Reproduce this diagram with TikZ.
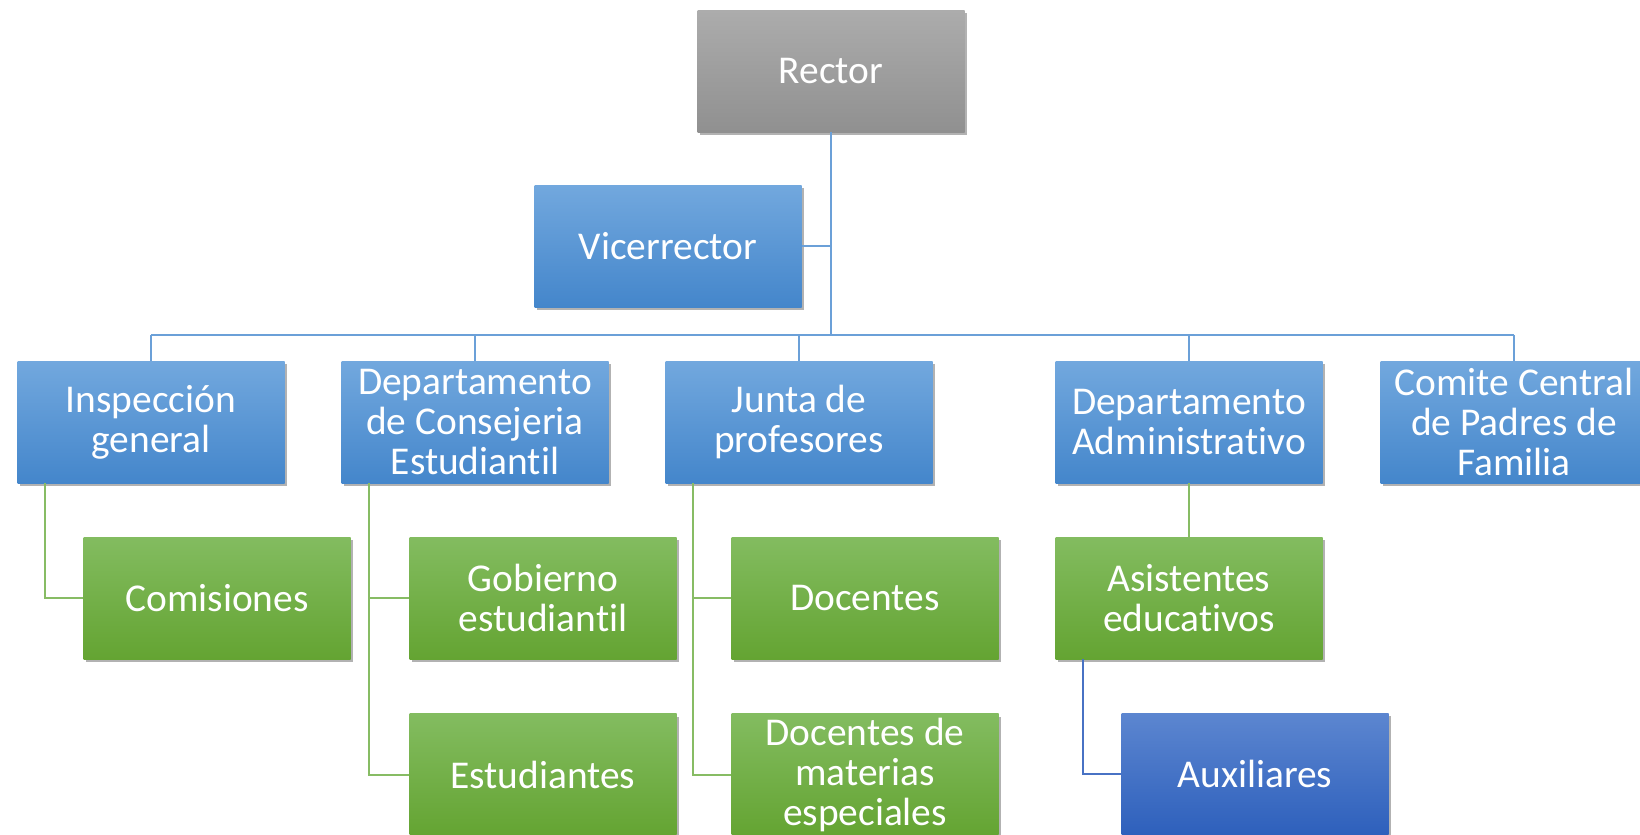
\documentclass[tikz,border=0pt]{standalone}
\usepackage{fontspec}
\setmainfont[Ligatures=NoCommon]{Carlito}
\usepackage{tikz}
\usetikzlibrary{positioning, shadows}
\definecolor{bluetop}{RGB}{114,168,222}
\definecolor{bluebot}{RGB}{68,134,203}
\definecolor{greentop}{RGB}{131,188,96}
\definecolor{greenbot}{RGB}{100,164,50}
\definecolor{graytop}{RGB}{172,172,172}
\definecolor{graybot}{RGB}{144,144,144}
\definecolor{deeptop}{RGB}{92,134,208}
\definecolor{deepbot}{RGB}{46,96,188}
\definecolor{bluelink}{RGB}{107,160,216}
\definecolor{greenlink}{RGB}{135,188,100}
\definecolor{deeplink}{RGB}{72,114,196}
\tikzstyle{link} = [line width=1.1pt]

\begin{document}
\begin{tikzpicture}[x=0.5pt, y=-0.5pt,
  every node/.style={rectangle, minimum width=133.5pt, minimum height=61pt, inner sep=2pt,
    align=center, text=white, font=\fontsize{19.7}{20}\selectfont,
    drop shadow={shadow xshift=1pt, shadow yshift=-1.5pt, opacity=0.3, fill=black}},
  boss/.style={top color=graytop, bottom color=graybot},
  unit/.style={top color=bluetop, bottom color=bluebot},
  team/.style={top color=greentop, bottom color=greenbot},
  aux/.style={top color=deeptop, bottom color=deepbot}]
  \useasboundingbox (0,0) rectangle (1640,835);

  % Top
  \node[boss] (rector) at (831,71) {Rector};
  \node[unit] (vice) at (668,246) {Vicerrector};

  % Second level
  \node[unit] (insp) at (151,422) {Inspección\\general};
  \node[unit] (conse) at (475,422) {Departamento\\de Consejeria\\Estudiantil};
  \node[unit] (junta) at (799,422) {Junta de\\profesores};
  \node[unit] (admin) at (1189,422) {Departamento\\Administrativo};
  \node[unit] (comite) at (1514,422) {Comite Central\\de Padres de\\Familia};

  % Third level
  \node[team] (comis) at (217,598) {Comisiones};
  \node[team] (gobierno) at (543,598) {Gobierno\\estudiantil};
  \node[team, below=27pt of gobierno] (estud) {Estudiantes};
  \node[team] (docentes) at (865,598) {Docentes};
  \node[team, below=27pt of docentes] (materias) {Docentes de\\materias\\especiales};
  \node[team] (asist) at (1189,598) {Asistentes\\educativos};
  \node[aux] (auxil) at (1255,774) {Auxiliares};

  % Connectors
  \coordinate (bus) at (0,335);
  \draw[link, bluelink] (rector.south) -- (rector.south |- bus);
  \draw[link, bluelink] (vice.east) -- (vice.east -| rector.south);
  \draw[link, bluelink] (insp.north |- bus) -- (comite.north |- bus);
  \foreach \n in {insp, conse, junta, admin, comite}
    \draw[link, bluelink] (\n.north) -- (\n.north |- bus);

  \draw[link, greenlink] ([xshift=14pt]insp.south west) |- (comis.west);
  \draw[link, greenlink] ([xshift=14pt]conse.south west) |- (gobierno.west);
  \draw[link, greenlink] ([xshift=14pt]conse.south west) |- (estud.west);
  \draw[link, greenlink] ([xshift=14pt]junta.south west) |- (docentes.west);
  \draw[link, greenlink] ([xshift=14pt]junta.south west) |- (materias.west);
  \draw[link, greenlink] (admin.south) -- (asist.north);
  \draw[link, deeplink] ([xshift=14pt]asist.south west) |- (auxil.west);
\end{tikzpicture}
\end{document}
